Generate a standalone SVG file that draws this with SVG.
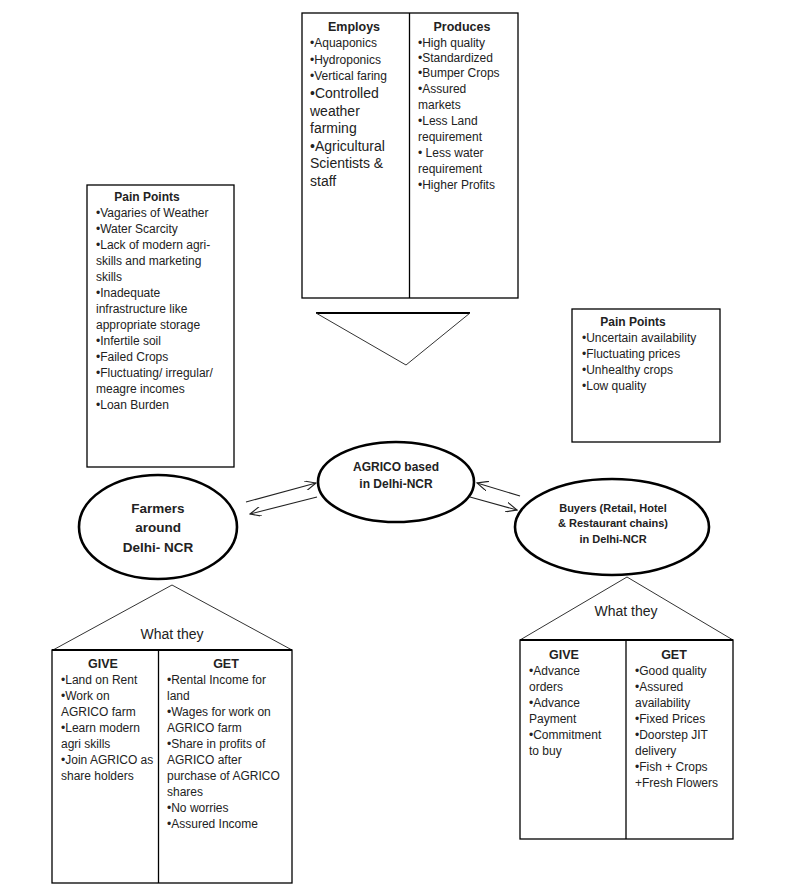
<svg xmlns="http://www.w3.org/2000/svg" width="811" height="896" viewBox="0 0 811 896">
<defs>
<style>
text{font-family:"Liberation Sans",Arial,sans-serif;font-size:12px;fill:#222}
.b{font-weight:bold}
.c{text-anchor:middle}
.big{font-size:14px}
.box{fill:#fff;stroke:#000;stroke-width:1.3}
.div{stroke:#000;stroke-width:1.3}
.ell{fill:#fff;stroke:#000;stroke-width:2.6}
.tri{fill:none;stroke:#333;stroke-width:1}
.base{stroke:#000;stroke-width:2}
.conn{stroke:#222;stroke-width:1.1;fill:none}
</style>
<marker id="ah" viewBox="0 0 12 10" refX="11" refY="5" markerWidth="12" markerHeight="10" markerUnits="userSpaceOnUse" orient="auto">
<path d="M0,0 L11,5 L0,10" fill="none" stroke="#222" stroke-width="1.1"/>
</marker>
</defs>
<rect width="811" height="896" fill="#fff"/>

<g id="agrico-top">
<rect class="box" x="302" y="13" width="216" height="285"/>
<line class="div" x1="409.5" y1="13" x2="409.5" y2="298"/>
<text class="b c" x="354" y="31" style="font-size:12.5px">Employs</text>
<text class="b c" x="462" y="31" style="font-size:12.5px">Produces</text>
<text x="310" y="47">•Aquaponics</text>
<text x="310" y="64">•Hydroponics</text>
<text x="310" y="80">•Vertical faring</text>
<text x="310" y="98" class="big">•Controlled</text>
<text x="310" y="116" class="big">weather</text>
<text x="310" y="133" class="big">farming</text>
<text x="310" y="151" class="big">•Agricultural</text>
<text x="310" y="168" class="big">Scientists &amp;</text>
<text x="310" y="186" class="big">staff</text>
<text x="418" y="47">•High quality</text>
<text x="418" y="62">•Standardized</text>
<text x="418" y="77">•Bumper Crops</text>
<text x="418" y="93">•Assured</text>
<text x="418" y="109">markets</text>
<text x="418" y="125">•Less Land</text>
<text x="418" y="141">requirement</text>
<text x="418" y="157">• Less water</text>
<text x="418" y="173">requirement</text>
<text x="418" y="189">•Higher Profits</text>
<line class="base" x1="316" y1="313" x2="470" y2="313"/>
<polyline class="tri" points="316,313 406,365 470,313"/>
</g>

<g id="farmer-pain">
<rect class="box" x="87" y="185" width="147" height="282"/>
<text class="b c" x="147" y="201">Pain Points</text>
<text x="96" y="217">•Vagaries of Weather</text>
<text x="96" y="233">•Water Scarcity</text>
<text x="96" y="249">•Lack of modern agri-</text>
<text x="96" y="265">skills and marketing</text>
<text x="96" y="281">skills</text>
<text x="96" y="297">•Inadequate</text>
<text x="96" y="313">infrastructure like</text>
<text x="96" y="329">appropriate storage</text>
<text x="96" y="345">•Infertile soil</text>
<text x="96" y="361">•Failed Crops</text>
<text x="96" y="377">•Fluctuating/ irregular/</text>
<text x="96" y="393">meagre incomes</text>
<text x="96" y="409">•Loan Burden</text>
</g>

<g id="buyer-pain">
<rect class="box" x="572" y="309" width="148" height="133"/>
<text class="b c" x="633" y="326">Pain Points</text>
<text x="582" y="342">•Uncertain availability</text>
<text x="582" y="358">•Fluctuating prices</text>
<text x="582" y="374">•Unhealthy crops</text>
<text x="582" y="390">•Low quality</text>
</g>

<g id="agrico">
<ellipse class="ell" cx="396" cy="482" rx="78" ry="40"/>
<text class="b c" x="396" y="471" style="font-size:12px">AGRICO based</text>
<text class="b c" x="396" y="488" style="font-size:12px">in Delhi-NCR</text>
</g>

<g id="farmers">
<ellipse class="ell" cx="158" cy="527" rx="79" ry="52"/>
<text class="b c" x="158" y="513" style="font-size:13.5px">Farmers</text>
<text class="b c" x="158" y="532" style="font-size:13.5px">around</text>
<text class="b c" x="158" y="552" style="font-size:13.5px">Delhi- NCR</text>
</g>

<g id="buyers">
<ellipse class="ell" cx="612" cy="527" rx="97" ry="48"/>
<text class="b c" x="613" y="512" style="font-size:11px">Buyers (Retail, Hotel</text>
<text class="b c" x="613" y="527" style="font-size:11px">&amp; Restaurant chains)</text>
<text class="b c" x="613" y="543" style="font-size:11px">in Delhi-NCR</text>
</g>

<g id="connectors">
<line class="conn" x1="246" y1="502" x2="316" y2="483" marker-end="url(#ah)"/>
<line class="conn" x1="317" y1="497" x2="250" y2="514" marker-end="url(#ah)"/>
<line class="conn" x1="520" y1="496" x2="477" y2="483" marker-end="url(#ah)"/>
<line class="conn" x1="470" y1="497" x2="517" y2="510" marker-end="url(#ah)"/>
</g>

<g id="farmer-what">
<polyline class="tri" points="53,650 172,585 292,650"/>
<text class="c" x="172" y="639" style="font-size:14px">What they</text>
<rect class="box" x="52" y="650" width="240" height="233"/>
<line class="base" x1="52" y1="650" x2="292" y2="650"/>
<line class="div" x1="158.5" y1="650" x2="158.5" y2="883"/>
<text class="b c" x="103" y="668" style="font-size:12.5px">GIVE</text>
<text class="b c" x="226" y="668" style="font-size:12.5px">GET</text>
<text x="61" y="684">•Land on Rent</text>
<text x="61" y="700">•Work on</text>
<text x="61" y="716">AGRICO farm</text>
<text x="61" y="732">•Learn modern</text>
<text x="61" y="748">agri skills</text>
<text x="61" y="764">•Join AGRICO as</text>
<text x="61" y="780">share holders</text>
<text x="167" y="684">•Rental Income for</text>
<text x="167" y="700">land</text>
<text x="167" y="716">•Wages for work on</text>
<text x="167" y="732">AGRICO farm</text>
<text x="167" y="748">•Share in profits of</text>
<text x="167" y="764">AGRICO after</text>
<text x="167" y="780">purchase of AGRICO</text>
<text x="167" y="796">shares</text>
<text x="167" y="812">•No worries</text>
<text x="167" y="828">•Assured Income</text>
</g>

<g id="buyer-what">
<polyline class="tri" points="520,640 627,577 733,640"/>
<text class="c" x="626" y="616" style="font-size:14px">What they</text>
<rect class="box" x="520" y="640" width="213" height="199"/>
<line class="base" x1="520" y1="640" x2="733" y2="640"/>
<line class="div" x1="626" y1="640" x2="626" y2="839"/>
<text class="b c" x="564" y="659" style="font-size:12.5px">GIVE</text>
<text class="b c" x="674" y="659" style="font-size:12.5px">GET</text>
<text x="529" y="675">•Advance</text>
<text x="529" y="691">orders</text>
<text x="529" y="707">•Advance</text>
<text x="529" y="723">Payment</text>
<text x="529" y="739">•Commitment</text>
<text x="529" y="755">to buy</text>
<text x="635" y="675">•Good quality</text>
<text x="635" y="691">•Assured</text>
<text x="635" y="707">availability</text>
<text x="635" y="723">•Fixed Prices</text>
<text x="635" y="739">•Doorstep JIT</text>
<text x="635" y="755">delivery</text>
<text x="635" y="771">•Fish + Crops</text>
<text x="635" y="787">+Fresh Flowers</text>
</g>
</svg>
